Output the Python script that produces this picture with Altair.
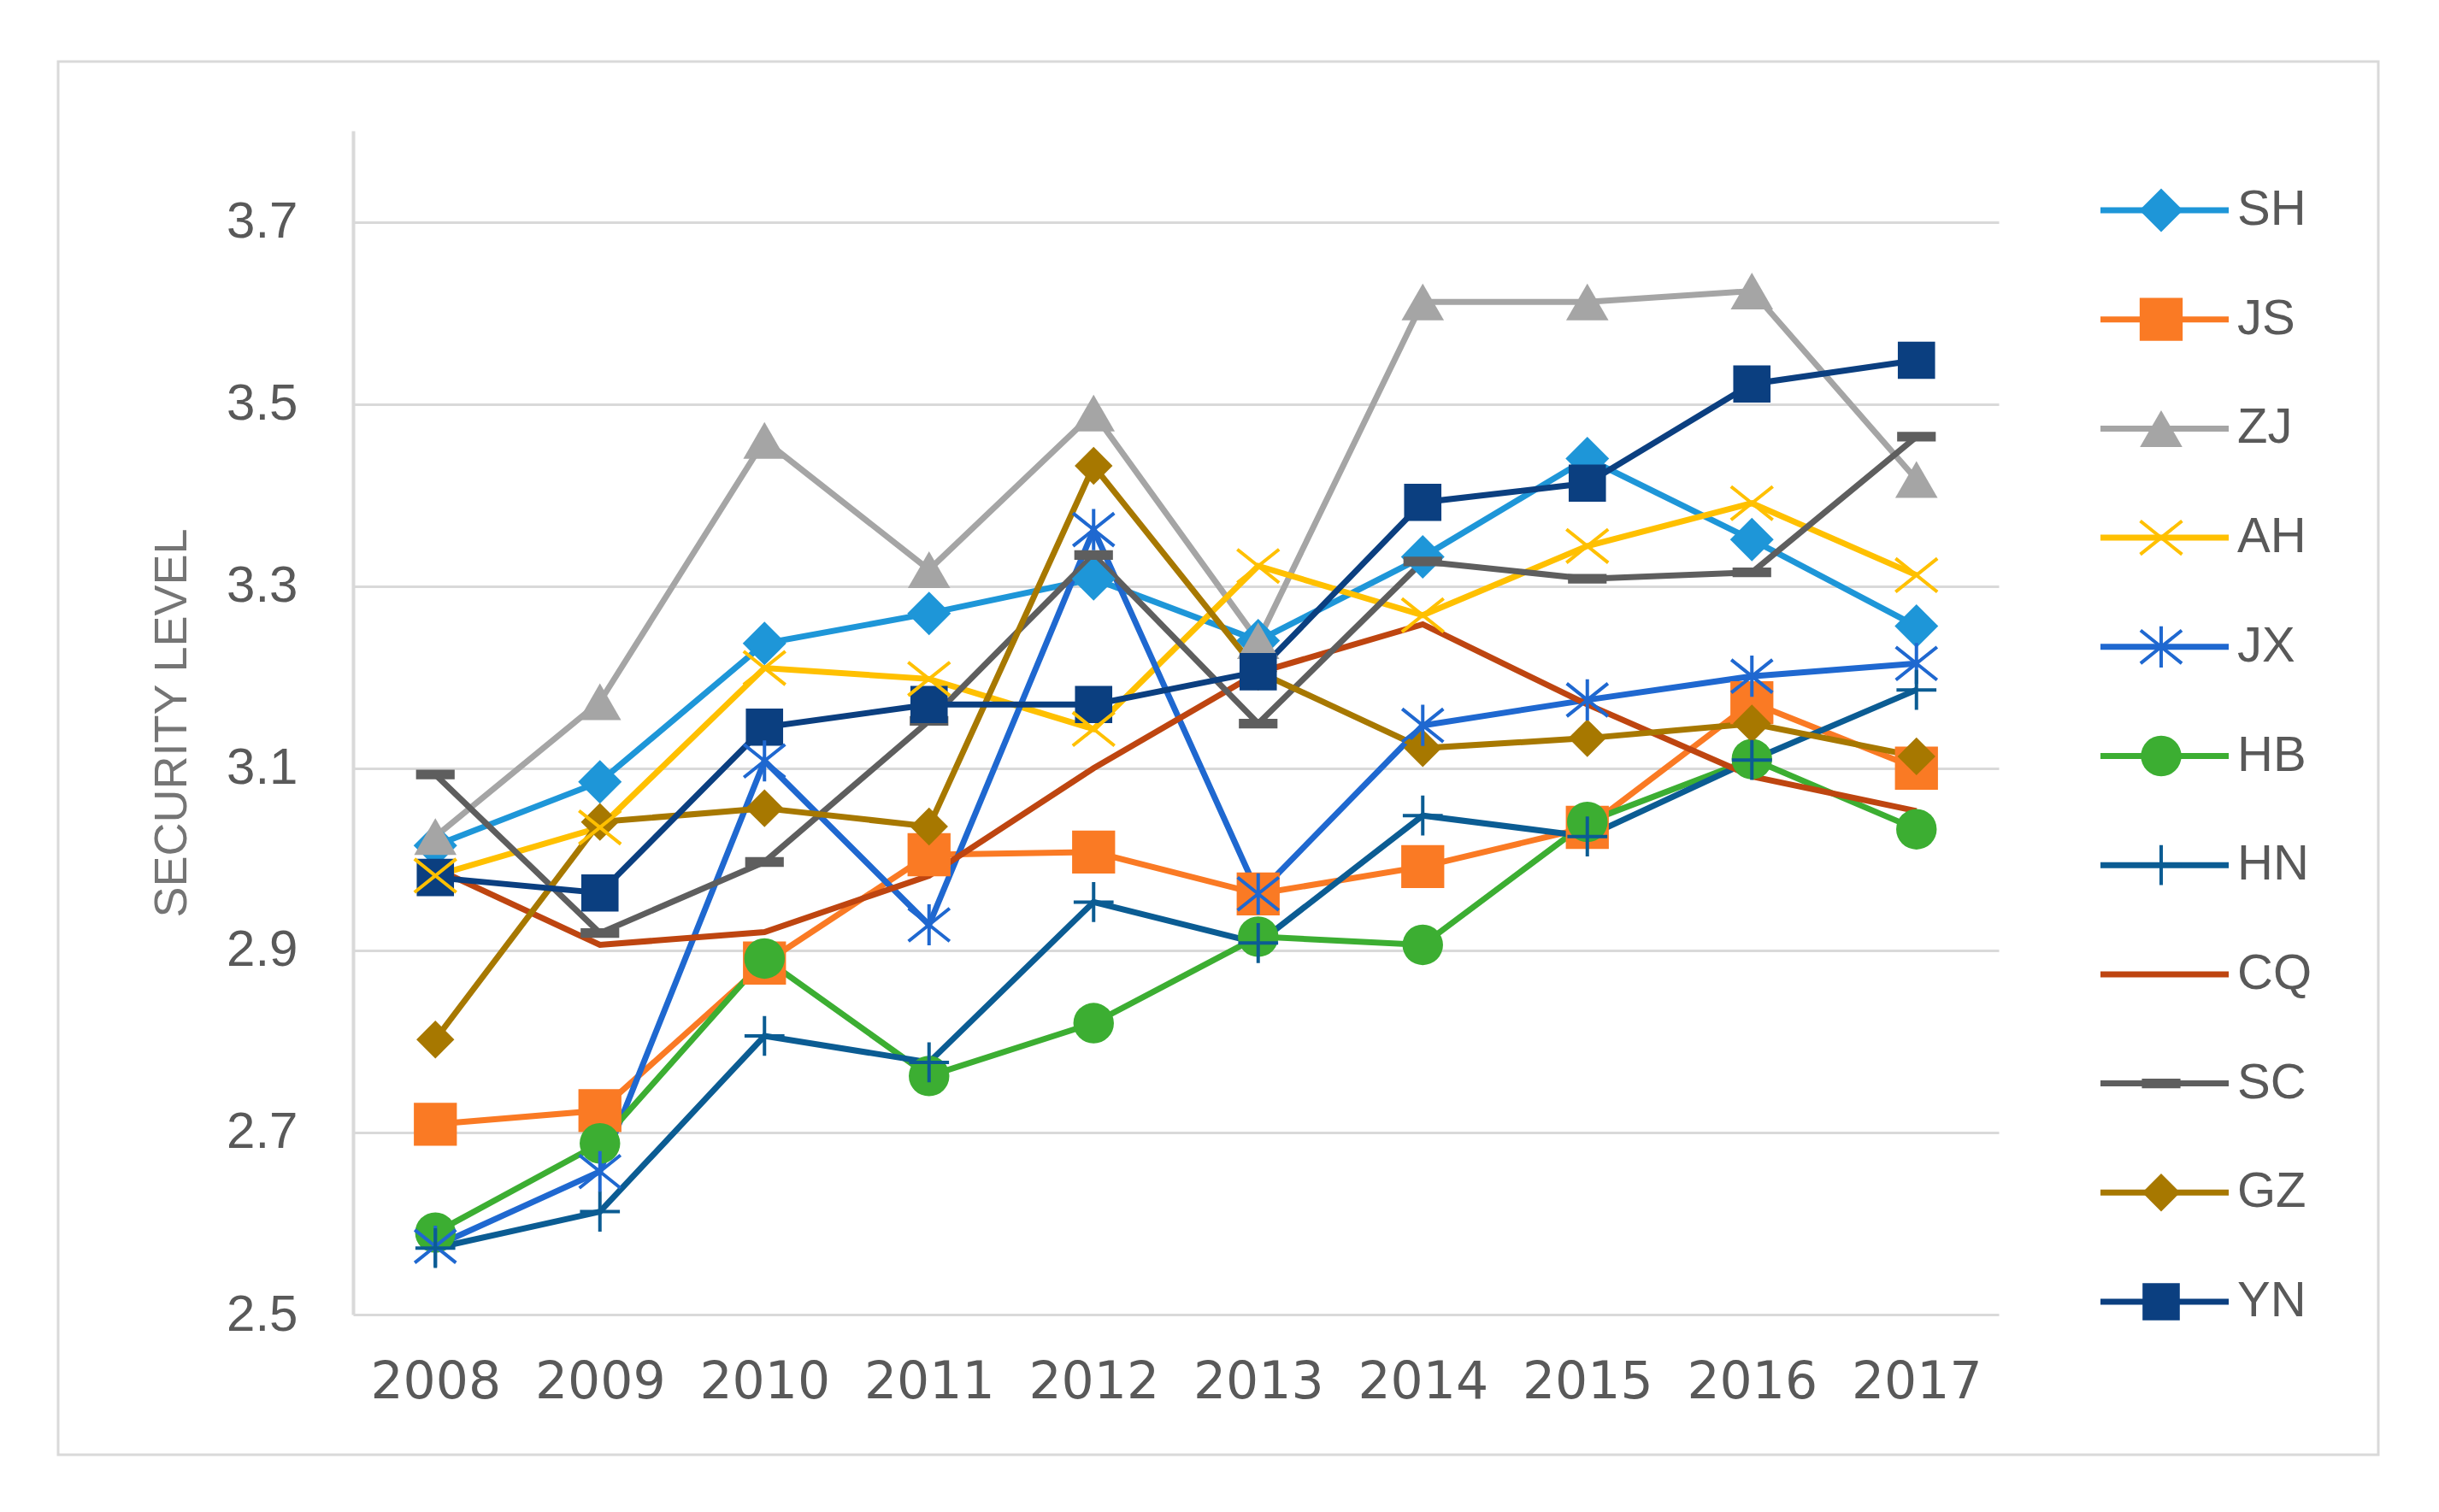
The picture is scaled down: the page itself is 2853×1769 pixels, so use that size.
import altair as alt
import pandas as pd

years = [2008, 2009, 2010, 2011, 2012, 2013, 2014, 2015, 2016, 2017]
series = ["SH", "JS", "ZJ", "AH", "JX", "HB", "HN", "CQ", "SC", "GZ", "YN"]

SH = [3.015, 3.085, 3.237, 3.270, 3.308, 3.240, 3.332, 3.440, 3.351, 3.256]
JS = [2.709, 2.724, 2.886, 3.005, 3.008, 2.962, 2.992, 3.035, 3.172, 3.100]
ZJ = [3.025, 3.173, 3.460, 3.318, 3.490, 3.240, 3.612, 3.612, 3.624, 3.417]
AH = [2.982, 3.035, 3.210, 3.198, 3.143, 3.322, 3.268, 3.344, 3.391, 3.312]
JX = [2.575, 2.657, 3.108, 2.928, 3.362, 2.962, 3.147, 3.175, 3.201, 3.215]
HB = [2.590, 2.688, 2.891, 2.762, 2.820, 2.915, 2.906, 3.041, 3.110, 3.033]
HN = [2.573, 2.613, 2.806, 2.777, 2.953, 2.908, 3.048, 3.025, 3.109, 3.186]
CQ = [2.990, 2.906, 2.920, 2.982, 3.100, 3.205, 3.258, 3.170, 3.091, 3.053]
SC = [3.093, 2.919, 2.997, 3.152, 3.334, 3.149, 3.327, 3.308, 3.315, 3.464]
GZ = [2.802, 3.041, 3.056, 3.036, 3.432, 3.206, 3.122, 3.133, 3.149, 3.113]
YN = [2.980, 2.963, 3.145, 3.170, 3.170, 3.206, 3.392, 3.413, 3.522, 3.548]

values_by_series = [SH, JS, ZJ, AH, JX, HB, HN, CQ, SC, GZ, YN]

colors = ["#1E96D8", "#FA7A24", "#A5A5A5", "#FFC000", "#1F68D0", "#3CAE32",
          "#0B5C93", "#BE4510", "#5E5E5E", "#A77800", "#0B3F80"]

X_PATH = "M-1,-0.8L1,0.8M-1,0.8L1,-0.8"
AST_PATH = "M-1,-0.8L1,0.8M-1,0.8L1,-0.8M0,-1L0,1"
PLUS_PATH = "M-1,0L1,0M0,-1L0,1"
DASH_PATH = "M-1,-0.25L1,-0.25L1,0.25L-1,0.25Z"
shapes = ["diamond", "square", "triangle-up", X_PATH, AST_PATH, "circle",
          PLUS_PATH, "circle", DASH_PATH, "diamond", "square"]
sizes = [2600, 1900, 2700, 2700, 2600, 2000, 2500, 10, 1900, 2600, 2000]

filled_series = ["SH", "JS", "ZJ", "HB", "SC", "GZ", "YN"]
stroked_series = ["AH", "JX", "HN"]

rows = []
for name, vals in zip(series, values_by_series):
    for yr, v in zip(years, vals):
        rows.append({"year": str(yr), "series": name, "value": v})
df = pd.DataFrame(rows)
legend_df = pd.DataFrame({"series": series})
frame_df = pd.DataFrame({"k": [0]})

W, H = 1925, 1385
LW = 7

color_scale = alt.Scale(domain=series, range=colors)
shape_scale = alt.Scale(domain=series, range=shapes)
size_scale = alt.Scale(domain=series, range=sizes)

x_enc = alt.X(
    "year:O",
    scale=alt.Scale(type="point", padding=0.5),
    axis=alt.Axis(title=None, labelAngle=0, labelFont="DejaVu Sans", labelFontSize=60,
                  labelColor="#595959", labelPadding=50, ticks=False, domain=False, grid=False),
)
y_enc = alt.Y(
    "value:Q",
    scale=alt.Scale(domain=[2.5, 3.8], nice=False, zero=False),
    axis=alt.Axis(
        title="SECURITY LEVEL",
        values=[2.5, 2.7, 2.9, 3.1, 3.3, 3.5, 3.7],
        format=".1f",
        ticks=False,
        domainColor="#d9d9d9", domainWidth=4,
        grid=True, gridColor="#d9d9d9", gridWidth=3,
        labelFont="Liberation Sans", labelFontSize=60, labelColor="#595959", labelPadding=65,
        titleFont="Liberation Sans", titleFontSize=54, titleColor="#757575",
        titleFontWeight="normal", titleX=-212, titleY=H / 2, titleAngle=-90,
        titleBaseline="middle", titleAlign="center",
    ),
)
color_enc = alt.Color("series:N", scale=color_scale, legend=None)
shape_enc = alt.Shape("series:N", scale=shape_scale, legend=None)
size_enc = alt.Size("series:N", scale=size_scale, legend=None)

base = alt.Chart(df)
lines = base.mark_line(strokeWidth=LW).encode(x=x_enc, y=y_enc, color=color_enc)
pts_filled = base.mark_point(filled=True, opacity=1).encode(
    x=x_enc, y=y_enc, color=color_enc, shape=shape_enc, size=size_enc
).transform_filter(alt.FieldOneOfPredicate(field="series", oneOf=filled_series))
pts_stroked = base.mark_point(filled=False, opacity=1, strokeWidth=4).encode(
    x=x_enc, y=y_enc, color=color_enc, shape=shape_enc, size=size_enc
).transform_filter(alt.FieldOneOfPredicate(field="series", oneOf=stroked_series))
main = alt.layer(lines, pts_filled, pts_stroked)

legend_y = alt.Y("series:N", scale=alt.Scale(type="point", domain=series, range=[93, 1370], padding=0), axis=None)
lbase = alt.Chart(legend_df)
leg_lines = lbase.mark_rule(strokeWidth=LW).encode(
    x=alt.value(2044), x2=alt.value(2194), y=legend_y, color=color_enc)
leg_filled = lbase.mark_point(filled=True, opacity=1).encode(
    x=alt.value(2115), y=legend_y, color=color_enc, shape=shape_enc, size=size_enc
).transform_filter(alt.FieldOneOfPredicate(field="series", oneOf=filled_series))
leg_stroked = lbase.mark_point(filled=False, opacity=1, strokeWidth=4).encode(
    x=alt.value(2115), y=legend_y, color=color_enc, shape=shape_enc, size=size_enc
).transform_filter(alt.FieldOneOfPredicate(field="series", oneOf=stroked_series))
leg_text = lbase.mark_text(align="left", baseline="middle", font="Liberation Sans",
                           fontSize=58, color="#595959").encode(
    x=alt.value(2204), y=legend_y, text="series:N")
legend = alt.layer(leg_lines, leg_filled, leg_stroked, leg_text)

frame = alt.Chart(frame_df).mark_rect(fill="white", fillOpacity=0, stroke="#d9d9d9", strokeWidth=3).encode(
    x=alt.value(-345), x2=alt.value(2369), y=alt.value(-81), y2=alt.value(1549))

chart = alt.layer(frame, main, legend).resolve_scale(y="independent").properties(
    width=W, height=H,
    autosize=alt.AutoSizeParams(type="none"),
    padding={"left": 405, "top": 145, "right": 460, "bottom": 180},
    background="white",
).configure_view(strokeWidth=0)

chart.save("out.html", embed_options={"renderer": "svg", "actions": False})
